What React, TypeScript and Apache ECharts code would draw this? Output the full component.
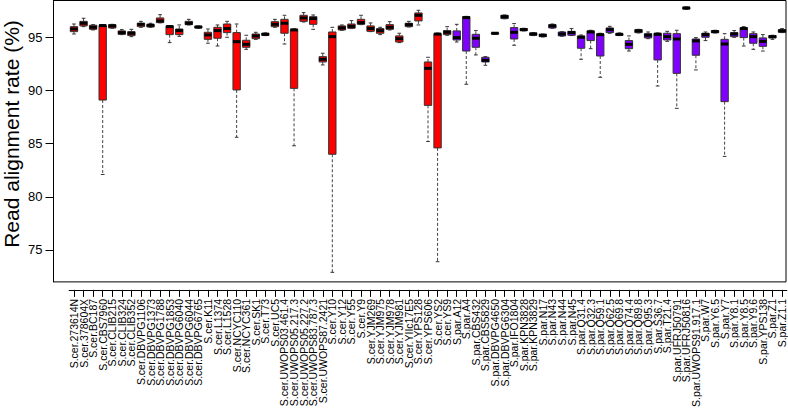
import React, { useEffect, useRef } from "react";
import * as echarts from "echarts";

const strains = [
  "S.cer.273614N", "S.cer.378604X", "S.cer.BC187", "S.cer.CBS7960", "S.cer.CLIB215",
  "S.cer.CLIB324", "S.cer.CLIB352", "S.cer.DBVPG1106", "S.cer.DBVPG1373", "S.cer.DBVPG1788",
  "S.cer.DBVPG1853", "S.cer.DBVPG6040", "S.cer.DBVPG6044", "S.cer.DBVPG6765", "S.cer.K11",
  "S.cer.L1374", "S.cer.L1528", "S.cer.NCYC110", "S.cer.NCYC361", "S.cer.SK1",
  "S.cer.T73", "S.cer.UC5", "S.cer.UWOPS03.461.4", "S.cer.UWOPS05.217.3", "S.cer.UWOPS05.227.2",
  "S.cer.UWOPS83.787.3", "S.cer.UWOPS87.2421", "S.cer.Y10", "S.cer.Y12", "S.cer.Y55",
  "S.cer.Y9", "S.cer.YJM269", "S.cer.YJM975", "S.cer.YJM978", "S.cer.YJM981",
  "S.cer.YIIc17E5", "S.cer.YPS128", "S.cer.YPS606", "S.cer.YS2", "S.cer.YS9",
  "S.par.A12", "S.par.A4", "S.par.CBS432", "S.par.CBS5829", "S.par.DBVPG4650",
  "S.par.DBVPG6304", "S.par.IFO1804", "S.par.KPN3828", "S.par.KPN3829", "S.par.N17",
  "S.par.N43", "S.par.N44", "S.par.N45", "S.par.Q31.4", "S.par.Q32.3",
  "S.par.Q59.1", "S.par.Q62.5", "S.par.Q69.8", "S.par.Q74.4", "S.par.Q89.8",
  "S.par.Q95.3", "S.par.S36.7", "S.par.T21.4", "S.par.UFRJ50791", "S.par.UFRJ50816",
  "S.par.UWOPS91.917.1", "S.par.W7", "S.par.Y6.5", "S.par.Y7", "S.par.Y8.1",
  "S.par.Y8.5", "S.par.Y9.6", "S.par.YPS138", "S.par.Z1", "S.par.Z1.1",
];

const maxVals = [
  96.25, 96.79, 96.19, 96.2, 96.22, 95.72, 95.75, 96.5, 96.32, 97.13,
  96.1, 96.16, 96.69, 96.06, 95.78, 96.16, 96.5, 96.25, 95.19, 95.47,
  95.41, 96.69, 97.07, 95.8, 97.32, 97.1, 93.5, 95.94, 96.16, 96.57,
  97.07, 96.35, 95.94, 96.47, 95.38, 96.5, 97.54, 93.12, 95.4, 96.0,
  96.22, 96.97, 95.63, 93.18, 95.44, 97.1, 96.29, 95.85, 95.44, 95.31,
  96.25, 95.53, 95.82, 95.22, 95.66, 95.38, 96.03, 95.41, 95.13, 95.75,
  95.5, 95.41, 95.56, 95.66, 97.85, 94.97, 95.5, 95.66, 95.34, 95.63,
  96.0, 95.5, 95.25, 95.19, 95.82,
];
const q3Vals = [
  96.0, 96.5, 96.13, 96.13, 96.19, 95.6, 95.53, 96.32, 96.22, 96.82,
  96.07, 95.78, 96.5, 96.03, 95.47, 95.94, 96.25, 95.44, 94.72, 95.31,
  95.38, 96.47, 96.69, 95.75, 97.07, 96.94, 93.18, 95.5, 96.07, 96.25,
  96.69, 96.07, 95.82, 96.19, 95.13, 96.32, 97.29, 92.68, 95.34, 95.63,
  95.6, 96.94, 95.28, 93.12, 95.41, 97.07, 95.91, 95.82, 95.41, 95.28,
  96.19, 95.5, 95.56, 95.13, 95.6, 95.31, 95.88, 95.34, 94.69, 95.72,
  95.34, 95.38, 95.38, 95.34, 97.82, 94.84, 95.38, 95.63, 94.81, 95.44,
  95.91, 95.34, 94.94, 95.16, 95.72,
];
const medianVals = [
  95.78, 96.32, 95.94, 96.1, 96.07, 95.44, 95.38, 96.22, 96.13, 96.54,
  96.0, 95.63, 96.32, 95.97, 95.22, 95.63, 95.82, 94.59, 94.34, 95.13,
  95.28, 96.22, 96.32, 95.69, 96.82, 96.76, 92.93, 95.06, 95.88, 96.03,
  96.38, 95.82, 95.63, 95.94, 94.87, 96.19, 97.07, 92.08, 95.3, 95.47,
  94.97, 96.85, 94.91, 92.84, 95.38, 96.94, 95.47, 95.72, 95.31, 95.19,
  96.07, 95.31, 95.44, 95.0, 95.5, 95.25, 95.72, 95.28, 94.34, 95.6,
  95.19, 95.28, 95.06, 94.84, 97.76, 94.66, 95.25, 95.53, 94.37, 95.31,
  95.82, 95.06, 94.62, 95.06, 95.6,
];
const q1Vals = [
  95.53, 96.07, 95.75, 89.1, 95.88, 95.28, 95.16, 96.0, 95.97, 96.38,
  95.25, 95.25, 96.19, 95.88, 94.81, 94.91, 95.44, 90.05, 94.06, 94.87,
  95.19, 96.0, 95.38, 90.2, 96.5, 96.22, 92.68, 84.0, 95.69, 95.85,
  96.22, 95.56, 95.38, 95.75, 94.56, 96.0, 96.54, 88.6, 84.6, 95.25,
  94.75, 93.71, 94.06, 92.68, 95.31, 96.76, 94.84, 95.63, 95.19, 95.06,
  95.88, 95.13, 95.19, 93.97, 94.69, 93.24, 95.44, 95.19, 93.93, 95.44,
  94.94, 92.87, 94.75, 91.61, 97.66, 93.31, 95.0, 95.44, 88.95, 95.06,
  94.97, 94.44, 94.15, 94.94, 95.47,
];
const minVals = [
  95.31, 96.0, 95.69, 82.1, 95.85, 95.25, 95.06, 95.94, 95.94, 96.36,
  94.5, 95.09, 96.16, 95.85, 94.44, 94.18, 95.0, 85.6, 93.87, 94.81,
  95.16, 95.94, 94.37, 84.8, 96.44, 95.75, 92.4, 72.9, 95.66, 95.82,
  96.19, 95.53, 95.25, 95.69, 94.5, 95.97, 96.16, 85.2, 73.9, 95.19,
  94.56, 90.58, 93.34, 92.37, 95.28, 96.74, 94.25, 95.6, 95.16, 95.03,
  95.85, 95.1, 95.16, 92.93, 93.93, 91.24, 95.38, 95.16, 93.71, 95.41,
  94.87, 90.42, 94.62, 88.32, 97.63, 91.93, 94.69, 95.41, 83.8, 95.0,
  94.18, 93.87, 93.71, 94.81, 95.44,
];

const yTicks = [75, 80, 85, 90, 95];

const RED = "#FF0000";
const PURPLE = "#8000FF";
const FONT = "'Liberation Sans', Arial, Helvetica, sans-serif";

export default function App() {
  const ref = useRef<HTMLDivElement>(null);

  useEffect(() => {
    if (!ref.current) return;
    const chart = echarts.init(ref.current, null, { renderer: "svg" });

    const data = strains.map((s, i) => [
      i,
      minVals[i],
      q1Vals[i],
      medianVals[i],
      q3Vals[i],
      maxVals[i],
    ]);

    const renderItem = (params: any, api: any) => {
      const i = api.value(0);
      const pMin = api.coord([i, api.value(1)]);
      const pQ1 = api.coord([i, api.value(2)]);
      const pMed = api.coord([i, api.value(3)]);
      const pQ3 = api.coord([i, api.value(4)]);
      const pMax = api.coord([i, api.value(5)]);
      const band = api.size([1, 0])[0];
      const half = band * 0.385;
      const staple = half * 0.5;
      const x = pMed[0];
      const fill = strains[i].startsWith("S.cer") ? RED : PURPLE;
      const whiskerStyle = { stroke: "#444", lineWidth: 1, lineDash: [3, 2] };
      const solid = { stroke: "#333", lineWidth: 1 };
      return {
        type: "group",
        children: [
          { type: "line", shape: { x1: x, y1: pQ3[1], x2: x, y2: pMax[1] }, style: whiskerStyle },
          { type: "line", shape: { x1: x, y1: pQ1[1], x2: x, y2: pMin[1] }, style: whiskerStyle },
          { type: "line", shape: { x1: x - staple, y1: pMax[1], x2: x + staple, y2: pMax[1] }, style: solid },
          { type: "line", shape: { x1: x - staple, y1: pMin[1], x2: x + staple, y2: pMin[1] }, style: solid },
          {
            type: "rect",
            shape: { x: x - half, y: pQ3[1], width: half * 2, height: pQ1[1] - pQ3[1] },
            style: { fill, stroke: "#333", lineWidth: 1 },
          },
          {
            type: "line",
            shape: { x1: x - half, y1: pMed[1], x2: x + half, y2: pMed[1] },
            style: { stroke: "#000", lineWidth: 3 },
          },
        ],
      };
    };

    chart.setOption({
      animation: false,
      backgroundColor: "#fff",
      textStyle: { fontFamily: FONT },
      grid: { left: 69.2, right: 1.2, top: 0.5, bottom: 131.1, containLabel: false },
      xAxis: {
        type: "category",
        data: strains,
        boundaryGap: true,
        offset: 8,
        axisLine: { show: true, lineStyle: { color: "#000", width: 1 } },
        axisTick: { show: true, alignWithLabel: true, interval: 0, length: 7, lineStyle: { color: "#000" } },
        axisLabel: {
          interval: 0,
          rotate: 90,
          margin: 9,
          fontSize: 10.5,
          color: "#000",
          fontFamily: FONT,
        },
        splitLine: { show: false },
      },
      yAxis: {
        type: "value",
        min: 72,
        max: 98.46,
        offset: 15.7,
        axisLine: { show: true, lineStyle: { color: "#000", width: 1 } },
        axisTick: { show: true, length: 8, customValues: yTicks, lineStyle: { color: "#000" } },
        axisLabel: {
          customValues: yTicks,
          margin: 11,
          fontSize: 13,
          color: "#000",
          fontFamily: FONT,
        },
        splitLine: { show: false },
      },
      graphic: [
        {
          type: "rect",
          shape: { x: 53.5, y: 0.5, width: 732.5, height: 281.4 },
          style: { fill: "none", stroke: "#000", lineWidth: 1 },
          silent: true,
          z: 10,
        },
        {
          type: "text",
          x: 11,
          y: 134,
          rotation: Math.PI / 2,
          style: {
            text: "Read alignment rate (%)",
            fontSize: 21,
            fontFamily: FONT,
            fill: "#000",
            align: "center",
            verticalAlign: "middle",
          },
        },
      ],
      series: [
        {
          type: "custom",
          renderItem,
          data,
          encode: { x: 0, y: [1, 2, 3, 4, 5] },
          clip: false,
        },
      ],
    });

    return () => chart.dispose();
  }, []);

  return (
    <div
      ref={ref}
      style={{ position: "fixed", left: 0, top: 0, width: 788, height: 413, background: "#fff" }}
    />
  );
}
